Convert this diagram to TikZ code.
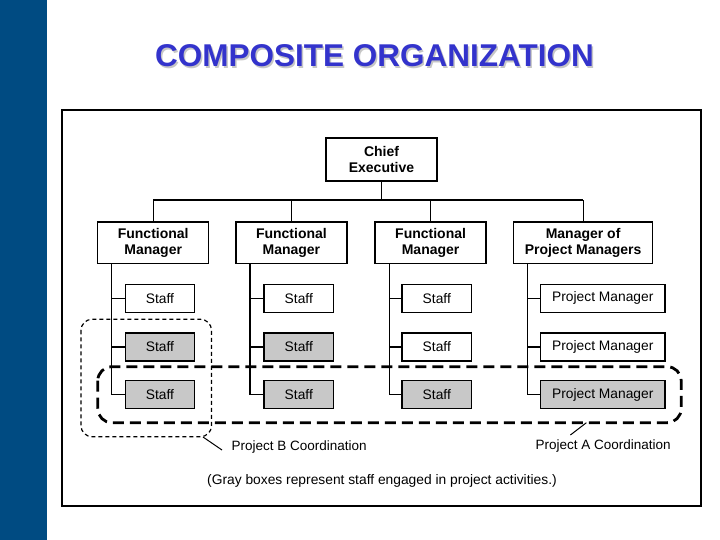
\documentclass[tikz,border=0pt]{standalone}
\usepackage{fontspec}
\setmainfont{Liberation Sans}
\usetikzlibrary{calc}
\definecolor{barblue}{RGB}{0,75,130}
\definecolor{titleblue}{RGB}{51,51,204}
\definecolor{boxgray}{RGB}{200,200,200}
\tikzset{
  box/.style={draw=black, line width=1.4pt, rectangle, inner sep=1pt, outer sep=0pt, align=center,
    font=\fontsize{13.8}{15.5}\selectfont},
  mgr/.style={box, minimum height=41pt, font=\bfseries\fontsize{14}{16}\selectfont},
  staffbox/.style={box, minimum height=28pt},
  grayed/.style={fill=boxgray},
  conn/.style={line width=1.2pt},
  lbl/.style={font=\fontsize{13.5}{15}\selectfont, inner sep=0pt},
}
\begin{document}
\begin{tikzpicture}[x=1pt,y=-1pt]
\useasboundingbox (0,0) rectangle (720,540);
\fill[barblue] (0,0) rectangle (47,540);
% title
\node[text=gray!45, font=\bfseries\fontsize{31.5}{36}\selectfont] (titleshadow) at (376,57.5) {COMPOSITE ORGANIZATION};
\node[text=titleblue, font=\bfseries\fontsize{31.5}{36}\selectfont] (title) at (374.5,56) {COMPOSITE ORGANIZATION};
% frame
\draw[line width=1.5pt] (62,110) rectangle (701,506);
% chief
\node[box, minimum width=111pt, minimum height=43pt, font=\bfseries\fontsize{14}{16}\selectfont] (chief) at (381.5,159.5) {Chief\\Executive};
% managers
\node[mgr, minimum width=111pt] (m1) at (153.2,242.7) {Functional\\Manager};
\node[mgr, minimum width=111pt] (m2) at (291.4,242.7) {Functional\\Manager};
\node[mgr, minimum width=111pt] (m3) at (430.6,242.7) {Functional\\Manager};
\node[mgr, minimum width=139pt] (m4) at (583.1,242.7) {Manager of\\Project Managers};
% bus
\coordinate (busL) at (153.2,200);
\coordinate (busR) at (583.1,200);
\draw[conn] (busL) -- (busR);
\draw[conn] (chief.south) -- (chief.south |- busL);
\foreach \m in {m1,m2,m3,m4}{\draw[conn] (\m.north) -- (\m.north |- busL);}
% staff
\node[staffbox, minimum width=69.5pt] (s11) at (160,298.2) {Staff};
\node[staffbox, minimum width=69.5pt, grayed] (s12) at (160,347) {Staff};
\node[staffbox, minimum width=69.5pt, grayed] (s13) at (160,394.5) {Staff};
\node[staffbox, minimum width=69.5pt] (s21) at (298.8,298.2) {Staff};
\node[staffbox, minimum width=69.5pt, grayed] (s22) at (298.8,347) {Staff};
\node[staffbox, minimum width=69.5pt, grayed] (s23) at (298.8,394.5) {Staff};
\node[staffbox, minimum width=69.5pt] (s31) at (436.8,298.2) {Staff};
\node[staffbox, minimum width=69.5pt] (s32) at (436.8,347) {Staff};
\node[staffbox, minimum width=69.5pt, grayed] (s33) at (436.8,394.5) {Staff};
\node[staffbox, minimum width=124.5pt] (s41) at (602.8,298.2) {Project Manager};
\node[staffbox, minimum width=124.5pt] (s42) at (602.8,347) {Project Manager};
\node[staffbox, minimum width=124.5pt, grayed] (s43) at (602.8,394.5) {Project Manager};
% spines
\foreach \c in {1,2,3,4}{
  \coordinate (sp\c) at ($(m\c.south west)+(14,0)$);
  \draw[conn] (sp\c) |- (s\c3.west);
  \draw[conn] (s\c1.west) -- (s\c1.west -| sp\c);
  \draw[conn] (s\c2.west) -- (s\c2.west -| sp\c);
}
% project groups
\draw[line width=1.2pt, dash pattern=on 4pt off 3pt, rounded corners=11pt] (81,319.3) rectangle (211.5,436.7);
\draw[line width=2.8pt, dash pattern=on 11pt off 6pt, rounded corners=14pt] (97.8,366.7) rectangle (681.2,422.7);
% labels
\node[lbl, anchor=west] (lbB) at (231.5,447) {Project B Coordination};
\coordinate (bB1) at (203,437);
\coordinate (bB2) at (222,450);
\draw[line width=1pt] (bB1) -- (bB2);
\node[lbl, anchor=west] (lbA) at (535.5,445.7) {Project A Coordination};
\coordinate (aA1) at (570.4,435);
\coordinate (aA2) at (586.4,422.7);
\draw[line width=1pt] (aA1) -- (aA2);
\node[lbl, font=\fontsize{13.8}{15}\selectfont] (note) at (382,481) {(Gray boxes represent staff engaged in project activities.)};
\end{tikzpicture}
\end{document}
